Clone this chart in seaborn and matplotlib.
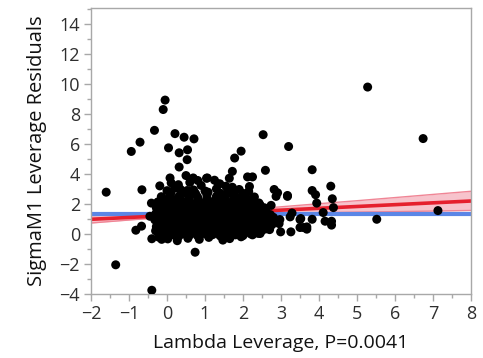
import numpy as np
import pandas as pd
import matplotlib
matplotlib.use("Agg")
import matplotlib.pyplot as plt
import seaborn as sns
from matplotlib.ticker import MultipleLocator

# ---------------- data ----------------
outlier_x = [-0.05, -0.10, -0.33, -0.71, -0.94, 0.21, 0.45, 0.71, 0.04, 0.32, 0.54, 0.53, 0.32,
             0.08, 0.11, 0.20, -0.19, -0.66, -1.60, 0.50, 0.69, 0.81, 1.06, 0.53,
             -0.41, -0.27, -0.45, -0.67, -0.82, -0.40, -0.14, 0.27, 0.74, -1.35, -0.40,
             2.53, 3.20, 1.95, 1.78, 1.72, 2.59, 3.82, 1.04, 1.64, 2.12, 2.25, 2.17, 2.82,
             2.91, 3.17, 3.82, 3.91, 1.39, 1.72,
             2.87, 3.17, 2.74, 3.29, 3.24, 2.97, 3.50, 3.68, 3.50, 3.26, 2.99, 3.94,
             1.47, 2.45, 2.62,
             4.31, 4.35, 4.38, 4.11, 3.82, 4.16, 4.33, 4.33, 3.52, 3.59, 3.68,
             5.52, 7.13, 5.28, 6.74]
outlier_y = [8.95, 8.32, 6.93, 6.14, 5.52, 6.71, 6.47, 6.36, 5.76, 5.43, 5.63, 4.97, 4.48,
             3.75, 3.42, 3.07, 3.22, 2.96, 2.80, 3.91, 3.75, 3.58, 3.75, 2.91,
             2.07, 1.99, 1.19, 0.53, 0.26, -0.31, -0.35, -0.44, -1.21, -2.05, -3.75,
             6.64, 5.85, 5.54, 5.08, 4.19, 4.26, 4.30, 3.73, 3.73, 3.82, 3.82, 3.18, 2.98,
             2.76, 2.58, 2.91, 2.63, 3.36, 3.13,
             2.52, 2.52, 1.92, 1.41, 1.15, 0.97, 0.97, 0.48, 0.44, 0.15, 0.15, 2.07,
             -0.40, 0.04, 0.48,
             3.20, 2.36, 1.77, 1.44, 0.99, 0.86, 0.86, 0.60, 1.04, 0.44, 0.33,
             0.99, 1.57, 9.82, 6.38]

cluster_x = [
    -0.22, 0.02, 0.30, 0.55, 0.85, 1.10, 1.40, 1.65, 1.95, 2.25,
    -0.20, 0.00, 0.20, 0.40, 0.60, 0.80, 1.00, 1.20, 1.40, 1.60, 1.80, 2.00, 2.20, 2.40,
    -0.30, -0.10, 0.12, 0.30, 0.50, 0.72, 0.90, 1.10, 1.32, 1.50, 1.72, 1.90, 2.12, 2.30, 2.50, 2.70,
    -0.20, 0.00, 0.20, 0.40, 0.60, 0.80, 1.00, 1.20, 1.40, 1.60, 1.80, 2.00, 2.20, 2.40, 2.60,
    -0.28, -0.08, 0.14, 0.34, 0.52, 0.74, 0.92, 1.14, 1.34, 1.54, 1.74, 1.94, 2.14, 2.34, 2.54, 2.76, 2.95,
    -0.20, 0.00, 0.20, 0.40, 0.60, 0.80, 1.00, 1.20, 1.40, 1.60, 1.80, 2.00, 2.20, 2.40, 2.60, 2.80,
    -0.32, -0.12, 0.08, 0.28, 0.48, 0.68, 0.88, 1.08, 1.28, 1.48, 1.68, 1.88, 2.08, 2.28, 2.48, 2.68, 2.88,
    -0.20, 0.00, 0.20, 0.40, 0.60, 0.80, 1.00, 1.20, 1.40, 1.60, 1.80, 2.00, 2.20, 2.40, 2.60, 2.80,
    -0.30, -0.10, 0.10, 0.30, 0.50, 0.70, 0.90, 1.10, 1.30, 1.50, 1.70, 1.90, 2.10, 2.30, 2.50, 2.72,
    -0.20, 0.00, 0.20, 0.40, 0.60, 0.80, 1.00, 1.20, 1.40, 1.60, 1.80, 2.00, 2.20, 2.40, 2.60,
    -0.28, -0.06, 0.14, 0.34, 0.54, 0.74, 0.94, 1.14, 1.34, 1.54, 1.74, 1.94, 2.14, 2.34, 2.56,
    -0.15, 0.05, 0.25, 0.45, 0.65, 0.85, 1.05, 1.25, 1.45, 1.65, 1.85, 2.05, 2.25, 2.45,
    -0.24, -0.02, 0.20, 0.40, 0.60, 0.80, 1.00, 1.20, 1.40, 1.60, 1.80, 2.00, 2.20, 2.42,
    -0.10, 0.12, 0.35, 0.58, 0.82, 1.05, 1.28, 1.52, 1.75, 1.98, 2.20,
    -0.15, 0.08, 0.32, 0.55, 0.80, 1.05, 1.30, 1.55, 1.80, 2.05, 2.30,
    0.10, 0.42, 0.75, 1.08, 1.40, 1.72, 2.00,
    0.00, 0.35, 0.70, 1.00, 1.30, 1.60, 1.90, 2.15,
    0.30, 0.90, 1.35, 1.55, 0.60, 1.25]
cluster_y = [
    -0.20, -0.32, -0.18, -0.28, -0.35, -0.22, -0.12, -0.30, -0.18, -0.05,
    -0.05, -0.02, -0.08, 0.00, -0.06, -0.10, 0.02, -0.04, -0.08, 0.00, -0.05, -0.10, 0.02, 0.05,
    0.22, 0.08, 0.16, 0.02, 0.20, 0.10, 0.18, 0.04, 0.22, 0.08, 0.16, 0.00, 0.20, 0.12, 0.24, 0.30,
    0.35, 0.40, 0.30, 0.42, 0.36, 0.32, 0.40, 0.34, 0.38, 0.30, 0.42, 0.36, 0.32, 0.40, 0.35,
    0.50, 0.62, 0.55, 0.66, 0.48, 0.60, 0.52, 0.65, 0.50, 0.60, 0.55, 0.66, 0.50, 0.60, 0.55, 0.62, 0.70,
    0.75, 0.80, 0.72, 0.78, 0.74, 0.82, 0.76, 0.72, 0.80, 0.74, 0.78, 0.72, 0.80, 0.76, 0.74, 0.78,
    0.95, 1.00, 0.90, 1.02, 0.94, 0.98, 0.90, 1.05, 0.92, 1.00, 0.95, 1.04, 0.90, 1.00, 0.94, 1.02, 0.92,
    1.15, 1.18, 1.12, 1.20, 1.14, 1.16, 1.12, 1.20, 1.15, 1.18, 1.12, 1.16, 1.20, 1.14, 1.18, 1.12,
    1.35, 1.30, 1.40, 1.32, 1.38, 1.30, 1.42, 1.34, 1.40, 1.30, 1.36, 1.42, 1.32, 1.40, 1.34, 1.30,
    1.55, 1.58, 1.52, 1.60, 1.54, 1.56, 1.52, 1.60, 1.55, 1.58, 1.52, 1.56, 1.60, 1.54, 1.56,
    1.75, 1.80, 1.72, 1.78, 1.70, 1.82, 1.76, 1.70, 1.80, 1.74, 1.78, 1.70, 1.80, 1.72, 1.76,
    1.95, 1.98, 1.92, 2.00, 1.94, 1.96, 1.92, 2.00, 1.95, 1.98, 1.92, 1.96, 2.00, 1.94,
    2.15, 2.20, 2.10, 2.18, 2.12, 2.22, 2.10, 2.16, 2.20, 2.10, 2.18, 2.12, 2.20, 2.08,
    2.35, 2.38, 2.32, 2.40, 2.34, 2.36, 2.32, 2.40, 2.35, 2.38, 2.32,
    2.50, 2.60, 2.55, 2.62, 2.50, 2.58, 2.52, 2.60, 2.50, 2.56, 2.48,
    2.75, 2.78, 2.72, 2.80, 2.74, 2.76, 2.72,
    2.90, 3.00, 2.95, 2.88, 3.02, 2.92, 2.98, 2.85,
    3.30, 3.25, 3.35, 3.20, 3.45, 3.60]

fit_x = [-2, 8]
fit_y = [0.99, 2.21]
mean_y = 1.33

band_x = [-2, -1, 0, 0.7, 1.5, 2.5, 4, 5, 6, 7, 8]
band_lo = [0.74, 0.94, 1.13, 1.24, 1.31, 1.36, 1.43, 1.47, 1.50, 1.54, 1.58]
band_hi = [1.24, 1.28, 1.35, 1.41, 1.53, 1.72, 2.03, 2.23, 2.44, 2.65, 2.86]

xlabel = "Lambda Leverage, P=0.0041"
ylabel = "SigmaM1 Leverage Residuals"

# ---------------- plot ----------------
sns.set_theme(style="white")
plt.rcParams['font.family'] = ['Open Sans', 'DejaVu Sans']

fig = plt.figure(figsize=(4.83, 3.58), dpi=100)
ax = fig.add_axes([91/483, 1 - 294/358, 380/483, 286/358])

pts = pd.DataFrame({"x": outlier_x + cluster_x, "y": outlier_y + cluster_y})

ax.fill_between(band_x, band_lo, band_hi, color="#f7c3cc", lw=0, zorder=1)
sns.lineplot(x=band_x, y=band_lo, ax=ax, color="#f08595", lw=1.0, zorder=2)
sns.lineplot(x=band_x, y=band_hi, ax=ax, color="#f08595", lw=1.0, zorder=2)
sns.lineplot(x=fit_x, y=[mean_y, mean_y], ax=ax, color="#5b86e6", lw=3, zorder=2)
sns.lineplot(x=fit_x, y=fit_y, ax=ax, color="#e5202e", lw=2.6, zorder=2.5)

sns.scatterplot(data=pts, x="x", y="y", ax=ax, color="black", s=42,
                edgecolor="none", linewidth=0, zorder=3)

ax.set_xlim(-2, 8)
ax.set_ylim(-4, 15.1)
ax.xaxis.set_major_locator(MultipleLocator(1))
ax.xaxis.set_minor_locator(MultipleLocator(0.5))
ax.yaxis.set_major_locator(MultipleLocator(2))
ax.yaxis.set_minor_locator(MultipleLocator(1))

for s in ax.spines.values():
    s.set_color("#a8a8a8")
    s.set_linewidth(1.0)

ax.tick_params(axis="both", which="major", direction="out", length=5, width=1,
               color="#a8a8a8", labelsize=13, labelcolor="#2e2e2e", pad=3,
               bottom=True, left=True)
ax.tick_params(axis="both", which="minor", direction="out", length=3, width=1,
               color="#a8a8a8", bottom=True, left=True)

ax.set_xlabel(xlabel, fontsize=14, color="#111111", labelpad=8)
ax.set_ylabel(ylabel, fontsize=14.5, color="#111111", labelpad=9)

fig.savefig("out.png", dpi=100)
